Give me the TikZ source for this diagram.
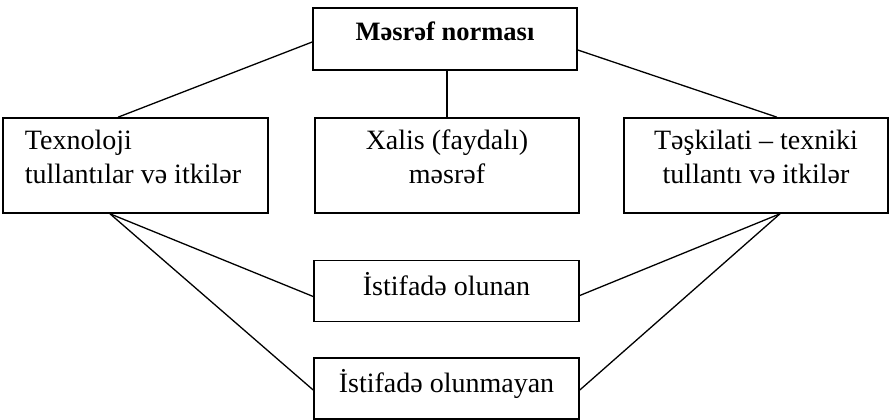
\documentclass[tikz,border=0pt]{standalone}
\usepackage{fontspec}
\setmainfont{Liberation Serif}
\usetikzlibrary{calc}
\begin{document}
\begin{tikzpicture}[x=1pt,y=-1pt,
  box/.style={draw=black,line width=1.6pt,rectangle,inner sep=0pt},
  txt/.style={inner sep=0pt,font=\fontsize{28}{34}\selectfont},
  link/.style={draw=black,line width=1.3pt}]
\useasboundingbox (0,0) rectangle (889,420);
% boxes
\node[box,minimum width=264pt,minimum height=62pt] (T) at (445,39) {};
\node[box,minimum width=265pt,minimum height=95pt] (L) at (135.5,165.5) {};
\node[box,minimum width=264pt,minimum height=95pt] (M) at (447,165.5) {};
\node[box,minimum width=264pt,minimum height=95pt] (R) at (756,165.5) {};
\node[box,minimum width=265pt,minimum height=61pt] (U) at (446.5,291) {};
\node[box,minimum width=265pt,minimum height=61pt] (N) at (446.5,388.5) {};
% texts
\node[txt,font=\fontsize{26.5}{36}\selectfont\bfseries] (Tt) at (445,31) {Məsrəf norması};
\node[txt,align=left] (Lt) at (133,156.5) {Texnoloji\\tullantılar və itkilər};
\node[txt,align=center] (Mt) at (447,156.5) {Xalis (faydalı)\\məsrəf};
\node[txt,align=center] (Rt) at (756,156.5) {Təşkilati – texniki\\tullantı və itkilər};
\node[txt] (Ut) at (446.5,284.5) {İstifadə olunan};
\node[txt] (Nt) at (446.5,384) {İstifadə olunmayan};
% connectors
\draw[link] ([yshift=-3pt]T.west) -- ([xshift=-17.5pt]L.north);
\draw[link] ([yshift=-11pt]T.east) -- ([xshift=21pt]R.north);
\draw[link] (M.north) -- (M.north |- T.south);
\draw[link] ([xshift=-25.5pt]L.south) -- ([yshift=-5.5pt]U.west);
\draw[link] ([xshift=-25.5pt]L.south) -- ([yshift=-1.5pt]N.west);
\draw[link] ([xshift=24pt]R.south) -- ([yshift=-4.5pt]U.east);
\draw[link] ([xshift=24pt]R.south) -- ([yshift=-1.5pt]N.east);
\end{tikzpicture}
\end{document}
